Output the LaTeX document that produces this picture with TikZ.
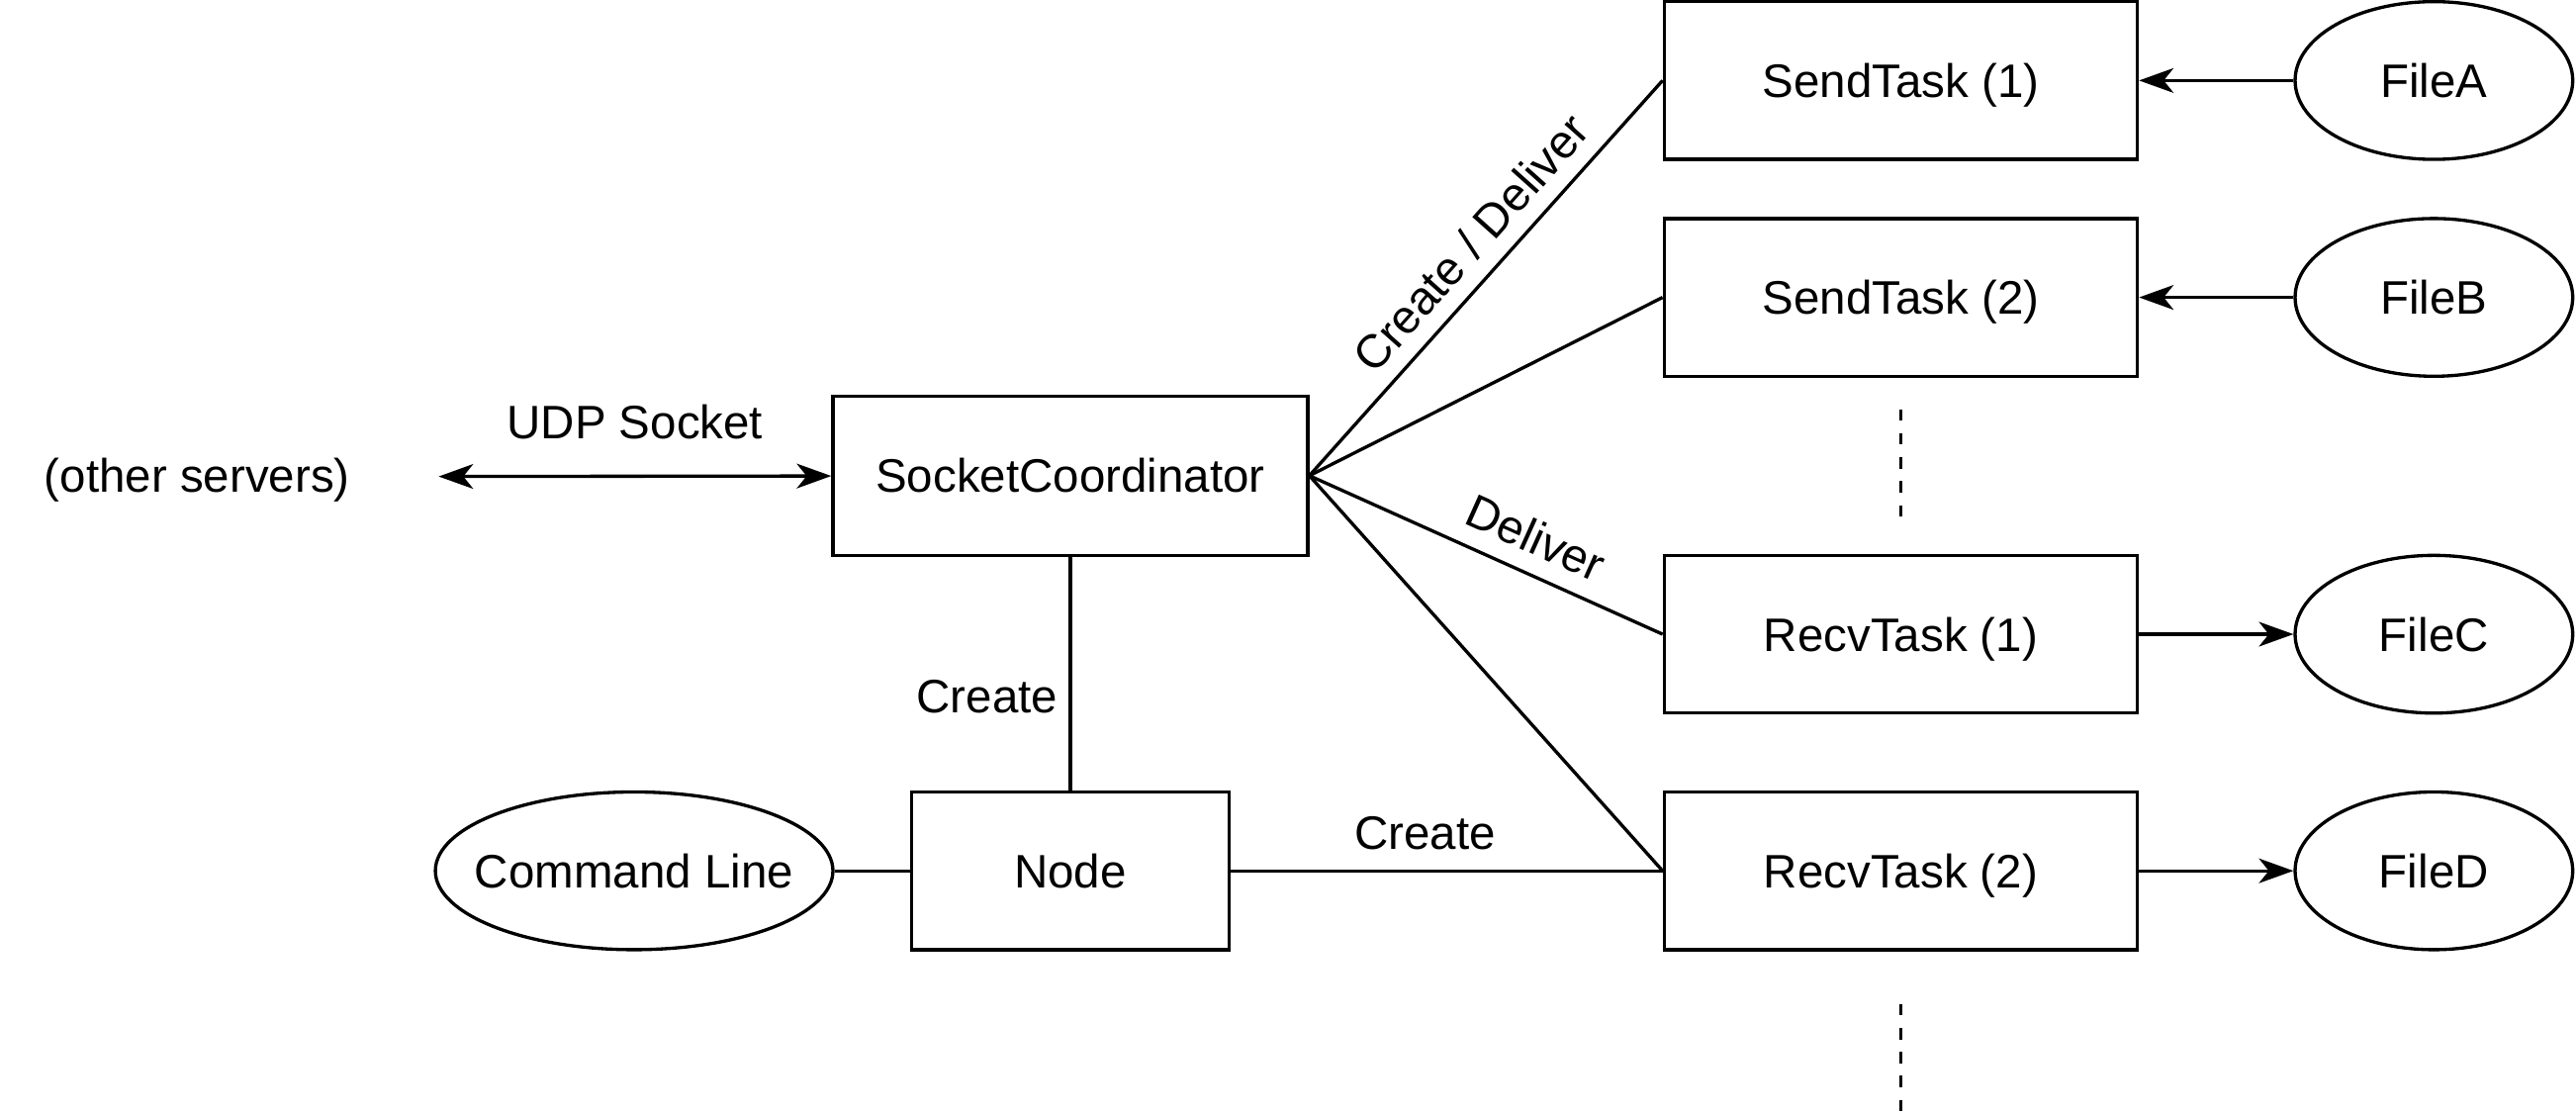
\documentclass[tikz,border=0pt]{standalone}
\usepackage{fontspec}
\setmainfont{Liberation Sans}
\usetikzlibrary{arrows.meta,positioning,shapes.geometric}

\tikzset{
  every node/.style={font=\fontsize{14.3pt}{17pt}\selectfont},
  task/.style={draw,line width=1pt,minimum width=144pt,minimum height=48pt,inner sep=0pt,text height=10.3pt,text depth=0pt},
  file/.style={draw,ellipse,line width=1pt,minimum width=84.5pt,minimum height=48pt,inner sep=0pt},
  link/.style={line width=1pt},
  tip/.style={-{Stealth[length=10.5pt,width=7.5pt,inset=3pt]}},
  bothtips/.style={{Stealth[length=10.5pt,width=7.5pt,inset=3pt]}-{Stealth[length=10.5pt,width=7.5pt,inset=3pt]}},
  dots/.style={line width=1pt,dash pattern=on 3.5pt off 3.8pt},
}

\begin{document}
\begin{tikzpicture}[x=0.5pt,y=0.5pt]
  \useasboundingbox (0,0) rectangle (1568,-679.2);

  % coordinator
  \node[task,minimum width=144.5pt,minimum height=48.5pt](coord) at (651.5,-289.5){SocketCoordinator};
  \node[task,minimum width=96.5pt,below=71pt of coord](node){Node};
  \node[file,minimum width=121pt,left=23pt of node,label=center:Command Line](cmd){};
  \node[](others) at (120,-292){(other servers)};
  \coordinate (udp) at (267,-290);

  % tasks
  \node[task](send1) at (1157,-49){SendTask (1)};
  \node[task,below=17pt of send1](send2){SendTask (2)};
  \node[task,below=53.5pt of send2](recv1){RecvTask (1)};
  \node[task,below=23pt of recv1](recv2){RecvTask (2)};

  % files
  \node[file,right=47pt of send1](fileA){FileA};
  \node[file,right=47pt of send2](fileB){FileB};
  \node[file,right=47pt of recv1](fileC){FileC};
  \node[file,right=47pt of recv2](fileD){FileD};

  % more tasks
  \coordinate[below=9.5pt of send2](dotsA1);
  \coordinate[below=33pt of dotsA1](dotsA2);
  \coordinate[below=16pt of recv2](dotsB1);
  \coordinate[below=33.5pt of dotsB1](dotsB2);
  \path[dots]
  (dotsA1) edge (dotsA2)
  (dotsB1) edge (dotsB2);

  \path[link]
  (coord.east) edge node[above=1.5pt,sloped,pos=0.53]{Create / Deliver} (send1.west)
  (coord.east) edge (send2.west)
  (coord.east) edge node[above=2pt,sloped,pos=0.6]{Deliver} (recv1.west)
  (coord.east) edge (recv2.west)
  (coord) edge node[left,pos=0.6]{Create} (node)
  (cmd) edge (node)
  (node) edge node[above=2.5pt,pos=0.45]{Create} (recv2.west);
  \path[link,bothtips]
  (udp) edge node[above=7.5pt]{UDP Socket} (coord);
  \path[link,tip]
  (fileA) edge (send1)
  (fileB) edge (send2)
  (recv1) edge (fileC)
  (recv2) edge (fileD);
\end{tikzpicture}
\end{document}
